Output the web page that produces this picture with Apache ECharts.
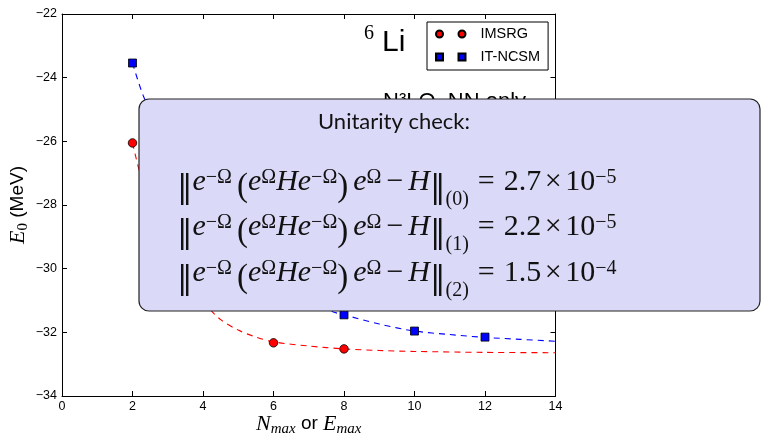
<!DOCTYPE html>
<html><head><meta charset="utf-8">
<script src="https://cdn.jsdelivr.net/npm/echarts@6/dist/echarts.min.js"></script>
<style>html,body{margin:0;padding:0;background:#fff}#c{width:761px;height:438px}</style>
</head><body><div id="c"></div>
<script>
// ---- data ----
const seriesNames = ['IMSRG', 'IT-NCSM'];
const imsrgX = [2, 6, 8];
const imsrgY = [-26.05, -32.33, -32.52];
const ncsmX = [2, 8, 10, 12];
const ncsmY = [-23.54, -31.45, -31.96, -32.15];
// dashed extrapolation curves
const imsrgFitX = [2, 2.2, 2.5, 3, 3.5, 4, 4.5, 5, 5.5, 6, 7, 8, 9, 10, 12, 14];
const imsrgFitY = [-26.05, -26.95, -28.0, -29.4, -30.4, -31.05, -31.6, -31.93, -32.15, -32.3, -32.43, -32.52, -32.57, -32.6, -32.63, -32.64];
const ncsmFitX = [2, 2.3, 3, 4, 5, 6, 7, 7.7, 8, 9, 10, 11, 12, 13, 14];
const ncsmFitY = [-23.54, -24.55, -26.3, -28.2, -29.5, -30.4, -31.02, -31.36, -31.45, -31.74, -31.96, -32.07, -32.16, -32.22, -32.28];
const xTicks = [0, 2, 4, 6, 8, 10, 12, 14];
const yTicks = [-34, -32, -30, -28, -26, -24, -22];
const normIndex = ['(0)', '(1)', '(2)'];
const normMantissa = ['2.7', '2.2', '1.5'];
const normExponent = ['−5', '−5', '−4'];

const zip = (a, b) => a.map((v, i) => [v, b[i]]);
const minus = v => String(v).replace('-', '−');

const chart = echarts.init(document.getElementById('c'), null, {renderer: 'canvas'});

const axisCommon = {
  type: 'value',
  axisLine: {onZero: false, lineStyle: {color: '#000', width: 1}},
  axisTick: {inside: true, length: 5, lineStyle: {color: '#000', width: 1}},
  splitLine: {show: false}
};

const SERIF = 'Liberation Serif';
const eqRich = {
  bar: {fontFamily: 'DejaVu Serif', fontSize: 31, height: 44, verticalAlign: 'bottom', color: '#111'},
  it: {fontFamily: SERIF, fontStyle: 'italic', fontSize: 30, lineHeight: 56, color: '#111'},
  rm: {fontFamily: SERIF, fontSize: 30, lineHeight: 56, color: '#111'},
  sp: {fontFamily: SERIF, fontSize: 20, lineHeight: 56},
  sp2: {fontFamily: SERIF, fontSize: 18, lineHeight: 56},
  sp3: {fontFamily: SERIF, fontSize: 14, lineHeight: 56},
  par: {fontFamily: SERIF, fontSize: 33, height: 47, verticalAlign: 'bottom', color: '#111'},
  sup: {fontFamily: SERIF, fontSize: 20, height: 46, verticalAlign: 'top', color: '#111'},
  sub: {fontFamily: SERIF, fontSize: 20, height: 22, verticalAlign: 'bottom', color: '#111'}
};
function eqLine(i) {
  return '{bar|‖}{it|e}{sup|−Ω}{sp| }{par|(}{it|e}{sup|Ω}{it|He}{sup|−Ω}{par|)}{sp| }{it|e}{sup|Ω}{sp| }{rm|−}{sp| }{it|H}{bar|‖}{sub|' +
    normIndex[i] + '}{sp2|  }{rm|=}{sp2|  }{rm|' + normMantissa[i] + '}{sp3| }{rm|×}{sp3| }{rm|10}{sup|' + normExponent[i] + '}';
}
const eqTops = [154.5, 199.5, 245.5];

const option = {
  animation: false,
  backgroundColor: '#fff',
  grid: {left: 62, top: 14, width: 493.5, height: 382, containLabel: false, outerBoundsMode: 'none'},
  legend: {
    show: true,
    orient: 'vertical',
    left: 427, top: 22,
    padding: [4, 8, 5, 8],
    itemGap: 7,
    itemWidth: 29.5, itemHeight: 7,
    borderColor: '#000', borderWidth: 1, backgroundColor: '#fff',
    textStyle: {fontFamily: 'Liberation Sans', fontSize: 14.5, color: '#000', lineHeight: 16, padding: [0, 0, 0, 10]},
    data: [
      {name: seriesNames[0], icon: 'path://M0,3.5a3.5,3.5 0 1,0 7,0a3.5,3.5 0 1,0 -7,0z M22.5,3.5a3.5,3.5 0 1,0 7,0a3.5,3.5 0 1,0 -7,0z'},
      {name: seriesNames[1], icon: 'path://M0,0h7v7h-7z M22.5,0h7v7h-7z'}
    ]
  },
  xAxis: [
    Object.assign({}, axisCommon, {
      min: xTicks[0], max: xTicks[xTicks.length - 1], interval: xTicks[1] - xTicks[0], position: 'bottom',
      axisLabel: {margin: 4, color: '#000', fontFamily: 'Liberation Sans', fontSize: 12.5},
      name: '{n|N}{s|max}{o| or }{n|E}{s|max}', nameLocation: 'middle', nameGap: 15, nameMoveOverlap: false,
      nameTextStyle: {rich: {
        n: {fontFamily: SERIF, fontStyle: 'italic', fontSize: 22, lineHeight: 26, color: '#000'},
        s: {fontFamily: SERIF, fontStyle: 'italic', fontSize: 15, height: 16, verticalAlign: 'bottom', color: '#000'},
        o: {fontFamily: 'Liberation Sans', fontSize: 19, lineHeight: 26, color: '#000'}
      }}
    }),
    Object.assign({}, axisCommon, {
      min: xTicks[0], max: xTicks[xTicks.length - 1], interval: xTicks[1] - xTicks[0], position: 'top',
      axisLabel: {show: false}
    })
  ],
  yAxis: [
    Object.assign({}, axisCommon, {
      min: yTicks[0], max: yTicks[yTicks.length - 1], interval: yTicks[1] - yTicks[0], position: 'left',
      axisLabel: {margin: 5, color: '#000', fontFamily: 'Liberation Sans', fontSize: 12.5, formatter: v => minus(v)},
      name: '{e|E}{s|0}{o| (MeV)}', nameLocation: 'middle', nameRotate: 90, nameGap: 31, nameMoveOverlap: false,
      nameTextStyle: {rich: {
        e: {fontFamily: SERIF, fontStyle: 'italic', fontSize: 22, lineHeight: 26, color: '#000'},
        s: {fontFamily: SERIF, fontSize: 15, height: 16, verticalAlign: 'bottom', color: '#000'},
        o: {fontFamily: 'Liberation Sans', fontSize: 19, lineHeight: 26, color: '#000'}
      }}
    }),
    Object.assign({}, axisCommon, {
      min: yTicks[0], max: yTicks[yTicks.length - 1], interval: yTicks[1] - yTicks[0], position: 'right',
      axisLabel: {show: false}
    })
  ],
  series: [
    {name: 'IMSRG extrapolation', type: 'line', data: zip(imsrgFitX, imsrgFitY), smooth: 0.3, showSymbol: false, silent: true,
      lineStyle: {color: '#ff0000', width: 1.1, type: [6, 5]}, z: 2},
    {name: 'IT-NCSM extrapolation', type: 'line', data: zip(ncsmFitX, ncsmFitY), smooth: 0.3, showSymbol: false, silent: true,
      lineStyle: {color: '#0000ff', width: 1.1, type: [6, 5]}, z: 2},
    {name: seriesNames[0], type: 'scatter', data: zip(imsrgX, imsrgY), symbol: 'circle', symbolSize: 8.5,
      itemStyle: {color: '#ff0000', borderColor: '#000', borderWidth: 0.8, opacity: 1}, z: 3},
    {name: seriesNames[1], type: 'scatter', data: zip(ncsmX, ncsmY), symbol: 'rect', symbolSize: 8,
      itemStyle: {color: '#0000ff', borderColor: '#000', borderWidth: 0.8, opacity: 1}, z: 3}
  ],
  graphic: [
    {type: 'text', x: 364, y: 33.5, z: 5, style: {text: '6', fontFamily: SERIF, fontSize: 20, fill: '#000', verticalAlign: 'middle'}},
    {type: 'text', x: 382, y: 42.5, z: 5, style: {text: 'Li', fontFamily: 'Liberation Sans', fontSize: 30, fill: '#000', verticalAlign: 'middle'}},
    {type: 'text', x: 383, y: 101.5, z: 5, style: {text: 'N³LO, NN only', fontFamily: 'Liberation Sans', fontSize: 22, fill: '#000', verticalAlign: 'middle'}},
    {type: 'rect', z: 100, shape: {x: 139, y: 99, width: 621, height: 212, r: 10},
      style: {fill: '#dadaf8', stroke: '#222', lineWidth: 1.2}},
    {type: 'text', x: 318, y: 121.5, z: 101, style: {text: 'Unitarity check:', fontFamily: 'Lato', fontSize: 22, fill: '#111', verticalAlign: 'middle'}},
    ...eqTops.map((t, i) => ({type: 'text', x: 177, y: t, z: 101,
      style: {text: eqLine(i), rich: eqRich, verticalAlign: 'top', align: 'left', fill: '#111'}}))
  ]
};
chart.setOption(option);
</script>
</body></html>
